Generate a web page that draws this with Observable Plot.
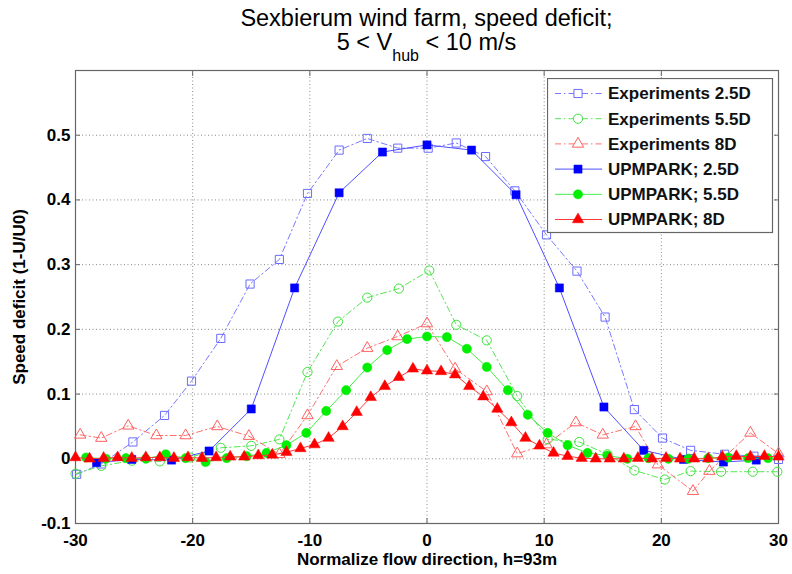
<!DOCTYPE html>
<html><head><meta charset="utf-8">
<script src="https://cdn.jsdelivr.net/npm/d3@7"></script>
<script src="https://cdn.jsdelivr.net/npm/@observablehq/plot@0.6"></script>
<style>
body{margin:0;background:#fff;}
#wrap{position:relative;width:792px;height:574px;font-family:"Liberation Sans",Arial,sans-serif;overflow:hidden;}
#title{position:absolute;left:75px;width:703px;top:6px;text-align:center;font-size:23.5px;line-height:24px;color:#000;}
#title .sub{font-size:16px;position:relative;top:11px;}
#chart{position:absolute;left:0;top:62px;}
#legend{position:absolute;left:547px;top:78px;}
</style></head>
<body>
<div id="wrap">
  <div id="title">Sexbierum wind farm, speed deficit;<br>5 &lt; V<span class="sub">hub</span> &lt; 10 m/s</div>
  <div id="chart"></div>
  <div id="legend"></div>
</div>
<script>
// ---- data ----
const xTicks = [-30, -20, -10, 0, 10, 20, 30];
const yTicks = [-0.1, 0, 0.1, 0.2, 0.3, 0.4, 0.5];
const xLabel = "Normalize flow direction, h=93m";
const yLabel = "Speed deficit (1-U/U0)";
const seriesNames = ["Experiments 2.5D", "Experiments 5.5D", "Experiments 8D", "UPMPARK; 2.5D", "UPMPARK; 5.5D", "UPMPARK; 8D"];

const expX25 = [-29.9,-27.8,-25.1,-22.4,-20.1,-17.6,-15.1,-12.6,-10.2,-7.5,-5.1,-2.5,0.1,2.5,5.0,7.5,10.2,12.8,15.2,17.7,20.1,22.5,25.4,27.9,30];
const expY25 = [-0.024,-0.008,0.026,0.067,0.12,0.186,0.27,0.308,0.41,0.477,0.495,0.48,0.48,0.488,0.467,0.414,0.346,0.29,0.219,0.076,0.032,0.013,0.007,0.004,-0.001];

const expX55 = [-30,-27.8,-25.2,-22.8,-20.2,-17.6,-15,-12.6,-10.2,-7.6,-5.1,-2.4,0.2,2.5,5.1,7.7,10.3,13,15.4,17.7,20.3,22.5,25.1,27.8,29.9];
const expY55 = [-0.023,-0.011,-0.003,-0.004,0.002,0.017,0.02,0.03,0.134,0.212,0.249,0.263,0.291,0.207,0.183,0.097,0.03,0.026,0.007,-0.018,-0.032,-0.019,-0.02,-0.02,-0.02];

const expX8 = [-29.6,-27.8,-25.5,-23.1,-20.6,-17.9,-15.2,-12.6,-10.2,-7.7,-5.1,-2.5,0,2.4,5.1,7.7,10.2,12.7,15,17.8,19.7,22.7,24.1,27.6,30];
const expY8 = [0.037,0.032,0.051,0.036,0.036,0.05,0.035,0.007,0.067,0.143,0.171,0.189,0.209,0.139,0.104,0.008,0.022,0.056,0.037,0.05,-0.009,-0.05,-0.019,0.04,0.008];

const upmX25 = [-28.2,-25.2,-21.8,-18.6,-15,-11.3,-7.5,-3.8,0,3.8,7.6,11.3,15.1,18.5,21.9,25.3,28.1];
const upmY25 = [-0.006,-0.001,-0.002,0.012,0.077,0.264,0.411,0.474,0.485,0.477,0.408,0.264,0.08,0.013,-0.001,-0.005,-0.002];

const upmX55 = [-29.1,-27.4,-25.7,-24,-22.3,-20.6,-18.9,-17.1,-15.4,-13.7,-12,-10.3,-8.6,-6.9,-5.1,-3.4,-1.7,0,1.7,3.4,5.1,6.9,8.6,10.3,12,13.7,15.4,17.1,18.9,20.6,22.3,24,25.7,27.4,29.1];
const upmY55 = [0.002,0.0,0.001,0.0,0.007,0.001,-0.005,0.001,0.004,0.009,0.021,0.04,0.074,0.106,0.141,0.168,0.185,0.189,0.188,0.17,0.142,0.106,0.068,0.04,0.021,0.009,0.005,0.0,0.001,0.0,0.0,0.001,0.002,0.001,0.001];

const upmX8 = [-30,-28.8,-27.6,-26.4,-25.2,-24,-22.8,-21.6,-20.4,-19.2,-18,-16.8,-15.6,-14.4,-13.2,-12,-10.8,-9.6,-8.4,-7.2,-6,-4.8,-3.6,-2.4,-1.2,0,1.2,2.4,3.6,4.8,6,7.2,8.4,9.6,10.8,12,13.2,14.4,15.6,16.8,18,19.2,20.4,21.6,22.8,24,25.2,26.4,27.6,28.8,30];
const upmY8 = [0.002,0.0,0.001,0.002,0.001,0.002,0.002,0.001,0.002,0.001,0.002,0.003,0.003,0.005,0.006,0.01,0.016,0.022,0.032,0.05,0.072,0.095,0.112,0.126,0.139,0.136,0.135,0.13,0.112,0.096,0.077,0.056,0.032,0.02,0.009,0.004,0.001,0.0,0.0,0.0,0.001,0.0,0.001,0.0,0.0,0.0,0.003,0.004,0.003,0.004,0.003];

// ---- styles ----
const DASHDOT = "6,3,1.5,3";
const styles = [
  {name: seriesNames[0], xs: expX25, ys: expY25, color: "#6b6bff", line: "#7a7aff", symbol: "square", r: 4.6, filled: false, dash: DASHDOT},
  {name: seriesNames[1], xs: expX55, ys: expY55, color: "#3ee23e", line: "#55e655", symbol: "circle", r: 4.6, filled: false, dash: DASHDOT},
  {name: seriesNames[2], xs: expX8,  ys: expY8,  color: "#ff6060", line: "#ff7070", symbol: "triangle", r: 4.2, filled: false, dash: DASHDOT},
  {name: seriesNames[3], xs: upmX25, ys: upmY25, color: "#0000ff", line: "#5050ff", symbol: "square", r: 4.6, filled: true, dash: null},
  {name: seriesNames[4], xs: upmX55, ys: upmY55, color: "#00ee00", line: "#44ee44", symbol: "circle", r: 4.6, filled: true, dash: null},
  {name: seriesNames[5], xs: upmX8,  ys: upmY8,  color: "#ff0000", line: "#ff3838", symbol: "triangle", r: 4.2, filled: true, dash: null}
];

const fmt = d => (d === 0 ? "0" : String(d));
const FONT = "Liberation Sans, Arial, sans-serif";

const seriesMarks = styles.flatMap(s => {
  const data = s.xs.map((x, i) => ({x, y: s.ys[i]}));
  return [
    Plot.line(data, {x: "x", y: "y", stroke: s.line, strokeWidth: 1, strokeDasharray: s.dash ?? undefined}),
    Plot.dot(data, {x: "x", y: "y", symbol: s.symbol, r: s.r, stroke: s.color, strokeWidth: s.filled ? 0.5 : 1, fill: s.filled ? s.color : "none"})
  ];
});

const chart = Plot.plot({
  width: 792, height: 512,
  marginLeft: 75, marginRight: 14, marginTop: 8, marginBottom: 51,
  style: {fontFamily: FONT, background: "transparent", overflow: "visible", color: "#000"},
  x: {domain: [-30, 30], label: null},
  y: {domain: [-0.1, 0.6], label: null},
  marks: [
    Plot.gridX(xTicks, {stroke: "#8a8a8a", strokeOpacity: 1, strokeDasharray: "1,2.5", strokeWidth: 1}),
    Plot.gridY(yTicks, {stroke: "#8a8a8a", strokeOpacity: 1, strokeDasharray: "1,2.5", strokeWidth: 1}),
    Plot.axisX(xTicks, {anchor: "bottom", tickSize: -5, tickPadding: 15, tickFormat: fmt, fontSize: 17, fontWeight: "bold", stroke: "#666", fill: "#000", label: null}),
    Plot.axisX(xTicks, {anchor: "top", tickSize: -5, tickFormat: () => "", stroke: "#666", label: null}),
    Plot.axisY(yTicks, {anchor: "left", tickSize: -5, tickPadding: 10, tickFormat: fmt, fontSize: 17, fontWeight: "bold", stroke: "#666", fill: "#000", label: null}),
    Plot.axisY(yTicks, {anchor: "right", tickSize: -5, tickFormat: () => "", stroke: "#666", label: null}),
    Plot.frame({stroke: "#666", strokeWidth: 1.2}),
    ...seriesMarks,
    Plot.text([xLabel], {text: d => d, frameAnchor: "bottom", lineAnchor: "middle", textAnchor: "middle", dy: 36, fontSize: 17, fontWeight: "bold", fill: "#000"}),
    Plot.text([yLabel], {text: d => d, frameAnchor: "left", lineAnchor: "middle", textAnchor: "middle", rotate: -90, dx: -56, fontSize: 17, fontWeight: "bold", fill: "#000"})
  ]
});
document.getElementById("chart").appendChild(chart);

// ---- legend ----
const LW = 225, LH = 154;
const leg = d3.select("#legend").append("svg").attr("width", LW + 2).attr("height", LH + 2)
  .style("font-family", FONT);
leg.append("rect").attr("x", 0.5).attr("y", 0.5).attr("width", LW).attr("height", LH)
  .attr("fill", "#fff").attr("stroke", "#666").attr("stroke-width", 1.2);
const symbolMap = {square: d3.symbolSquare, circle: d3.symbolCircle, triangle: d3.symbolTriangle};
styles.forEach((s, i) => {
  const cy = 15.5 + i * 25.2;
  const g = leg.append("g");
  g.append("line").attr("x1", 8).attr("x2", 55).attr("y1", cy).attr("y2", cy)
    .attr("stroke", s.line).attr("stroke-width", 1).attr("stroke-dasharray", s.dash);
  g.append("path").attr("transform", `translate(31,${cy})`)
    .attr("d", d3.symbol(symbolMap[s.symbol], Math.PI * s.r * s.r)())
    .attr("fill", s.filled ? s.color : "#fff").attr("stroke", s.color).attr("stroke-width", s.filled ? 0.5 : 1);
  g.append("text").attr("x", 61).attr("y", cy).attr("dy", "0.35em")
    .attr("font-size", 17).attr("font-weight", "bold").attr("fill", "#111").text(s.name);
});
</script>
</body></html>
